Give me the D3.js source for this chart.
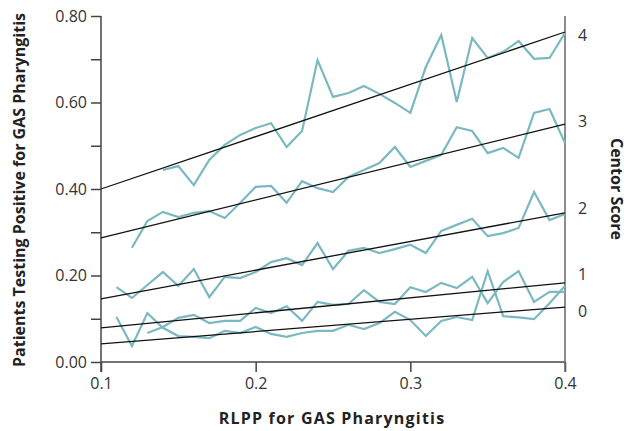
<!DOCTYPE html>
<html>
<head>
<meta charset="utf-8">
<script src="https://cdn.jsdelivr.net/npm/d3@7"></script>
<style>
  body { margin: 0; background: #fff; }
  svg text { font-family: "Open Sans", "Noto Sans", sans-serif; fill: #333; }
</style>
</head>
<body>
<svg id="chart" width="633" height="431"></svg>
<script>
// RLPP values on the x axis (0.11 .. 0.40)
var rlpp = [0.11, 0.12, 0.13, 0.14, 0.15, 0.16, 0.17, 0.18, 0.19, 0.20,
            0.21, 0.22, 0.23, 0.24, 0.25, 0.26, 0.27, 0.28, 0.29, 0.30,
            0.31, 0.32, 0.33, 0.34, 0.35, 0.36, 0.37, 0.38, 0.39, 0.40];

// Observed share positive per Centor score (null = no point)
var score0 = [0.104, 0.037, 0.113, 0.079, 0.060, 0.058, 0.055, 0.072, 0.067, 0.081,
              0.065, 0.058, 0.067, 0.072, 0.072, 0.086, 0.076, 0.090, 0.116, 0.097,
              0.060, 0.095, 0.104, 0.097, 0.210, 0.106, 0.103, 0.099, 0.136, 0.176];
var score1 = [null, null, 0.067, 0.081, 0.102, 0.109, 0.090, 0.095, 0.095, 0.125,
              0.113, 0.129, 0.095, 0.139, 0.132, 0.134, 0.166, 0.139, 0.134, 0.173,
              0.162, 0.183, 0.171, 0.197, 0.136, 0.185, 0.210, 0.139, 0.162, 0.162];
var score2 = [0.173, 0.148, 0.178, 0.208, 0.176, 0.215, 0.150, 0.197, 0.194, 0.208,
              0.231, 0.240, 0.224, 0.275, 0.215, 0.257, 0.264, 0.252, 0.261, 0.271,
              0.252, 0.303, 0.317, 0.331, 0.291, 0.298, 0.310, 0.393, 0.328, 0.342];
var score3 = [null, 0.264, 0.326, 0.347, 0.335, 0.345, 0.349, 0.333, 0.368, 0.405,
              0.407, 0.368, 0.418, 0.402, 0.393, 0.428, 0.444, 0.460, 0.497, 0.451,
              0.465, 0.479, 0.543, 0.534, 0.483, 0.495, 0.472, 0.576, 0.585, 0.506];
var score4 = [null, null, null, 0.444, 0.453, 0.409, 0.467, 0.502, 0.525, 0.541,
              0.552, 0.497, 0.534, 0.698, 0.613, 0.622, 0.638, 0.620, 0.599, 0.576,
              0.682, 0.756, 0.601, 0.749, 0.703, 0.717, 0.742, 0.701, 0.703, 0.761];

// Fitted lines: value at RLPP 0.1 and at 0.4
var fitStart = [0.042, 0.079, 0.146, 0.287, 0.400];
var fitEnd   = [0.127, 0.183, 0.345, 0.550, 0.763];

// Right-hand Centor score labels and where they sit (in y units)
var centorLabels = ["0", "1", "2", "3", "4"];
var centorLabelY = [0.118, 0.203, 0.356, 0.556, 0.756];

var xTicks = [0.1, 0.2, 0.3, 0.4];
var yTicks = [0, 0.1, 0.2, 0.3, 0.4, 0.5, 0.6, 0.7, 0.8];

var series = [score0, score1, score2, score3, score4];

var svg = d3.select("#chart");
var mLeft = 101, mRight = 565, mTop = 16, mBottom = 362;

var x = d3.scaleLinear().domain([0.1, 0.4]).range([mLeft, mRight]);
var y = d3.scaleLinear().domain([0, 0.8]).range([mBottom, mTop]);

// Left axis
var yAxis = d3.axisLeft(y).tickValues(yTicks).tickSize(10).tickPadding(4)
  .tickFormat(function(d) { return Math.round(d * 10) % 2 == 0 ? d3.format(".2f")(d) : ""; });
var gy = svg.append("g").attr("transform", "translate(" + mLeft + ",0)").call(yAxis);
gy.select(".domain").remove();
gy.append("line").attr("x1", 0).attr("x2", 0).attr("y1", mTop).attr("y2", mBottom + 10)
  .attr("stroke", "#444").attr("stroke-width", 1.5);
gy.selectAll(".tick line").attr("stroke", "#444").attr("stroke-width", 1.5);
gy.selectAll(".tick text").style("font-size", "16px").style("fill", "#333");

// Bottom axis
var xAxis = d3.axisBottom(x).tickValues(xTicks).tickSize(10).tickPadding(6).tickFormat(d3.format(".1f"));
var gx = svg.append("g").attr("transform", "translate(0," + mBottom + ")").call(xAxis);
gx.select(".domain").remove();
gx.append("line").attr("x1", mLeft).attr("x2", mRight).attr("y1", 0).attr("y2", 0)
  .attr("stroke", "#444").attr("stroke-width", 1.5);
gx.selectAll(".tick line").attr("stroke", "#444").attr("stroke-width", 1.5);
gx.selectAll(".tick text").style("font-size", "16px").style("fill", "#333");

// Right axis line
svg.append("line").attr("x1", mRight).attr("x2", mRight).attr("y1", mTop).attr("y2", mBottom + 10)
  .attr("stroke", "#666").attr("stroke-width", 1.5);

// Observed lines
var line = d3.line()
  .defined(function(d) { return d != null; })
  .x(function(d, i) { return x(rlpp[i]); })
  .y(function(d) { return y(d); });

svg.append("g").selectAll("path").data(series).join("path")
  .attr("d", line)
  .attr("fill", "none")
  .attr("stroke", "#7ab9c1")
  .attr("stroke-width", 2.2)
  .attr("stroke-linejoin", "miter");

// Fitted lines
svg.append("g").selectAll("line").data(fitStart).join("line")
  .attr("x1", x(0.1)).attr("x2", x(0.4))
  .attr("y1", function(d) { return y(d); })
  .attr("y2", function(d, i) { return y(fitEnd[i]); })
  .attr("stroke", "#111").attr("stroke-width", 1.3);

// Centor labels
svg.append("g").selectAll("text").data(centorLabels).join("text")
  .attr("x", mRight + 13)
  .attr("y", function(d, i) { return y(centorLabelY[i]); })
  .attr("dy", "0.35em")
  .style("font-size", "16px")
  .text(function(d) { return d; });

// Titles
svg.append("text")
  .attr("transform", "translate(25,190) rotate(-90)")
  .attr("text-anchor", "middle")
  .style("font-size", "16px").style("font-weight", "bold").style("fill", "#222")
  .text("Patients Testing Positive for GAS Pharyngitis");

svg.append("text")
  .attr("x", 332).attr("y", 424)
  .attr("text-anchor", "middle")
  .style("font-size", "16px").style("font-weight", "bold").style("fill", "#222")
  .style("letter-spacing", "1.2px")
  .text("RLPP for GAS Pharyngitis");

svg.append("text")
  .attr("transform", "translate(611,189) rotate(90)")
  .attr("text-anchor", "middle")
  .style("font-size", "16px").style("font-weight", "bold").style("fill", "#222")
  .text("Centor Score");
</script>
</body>
</html>
